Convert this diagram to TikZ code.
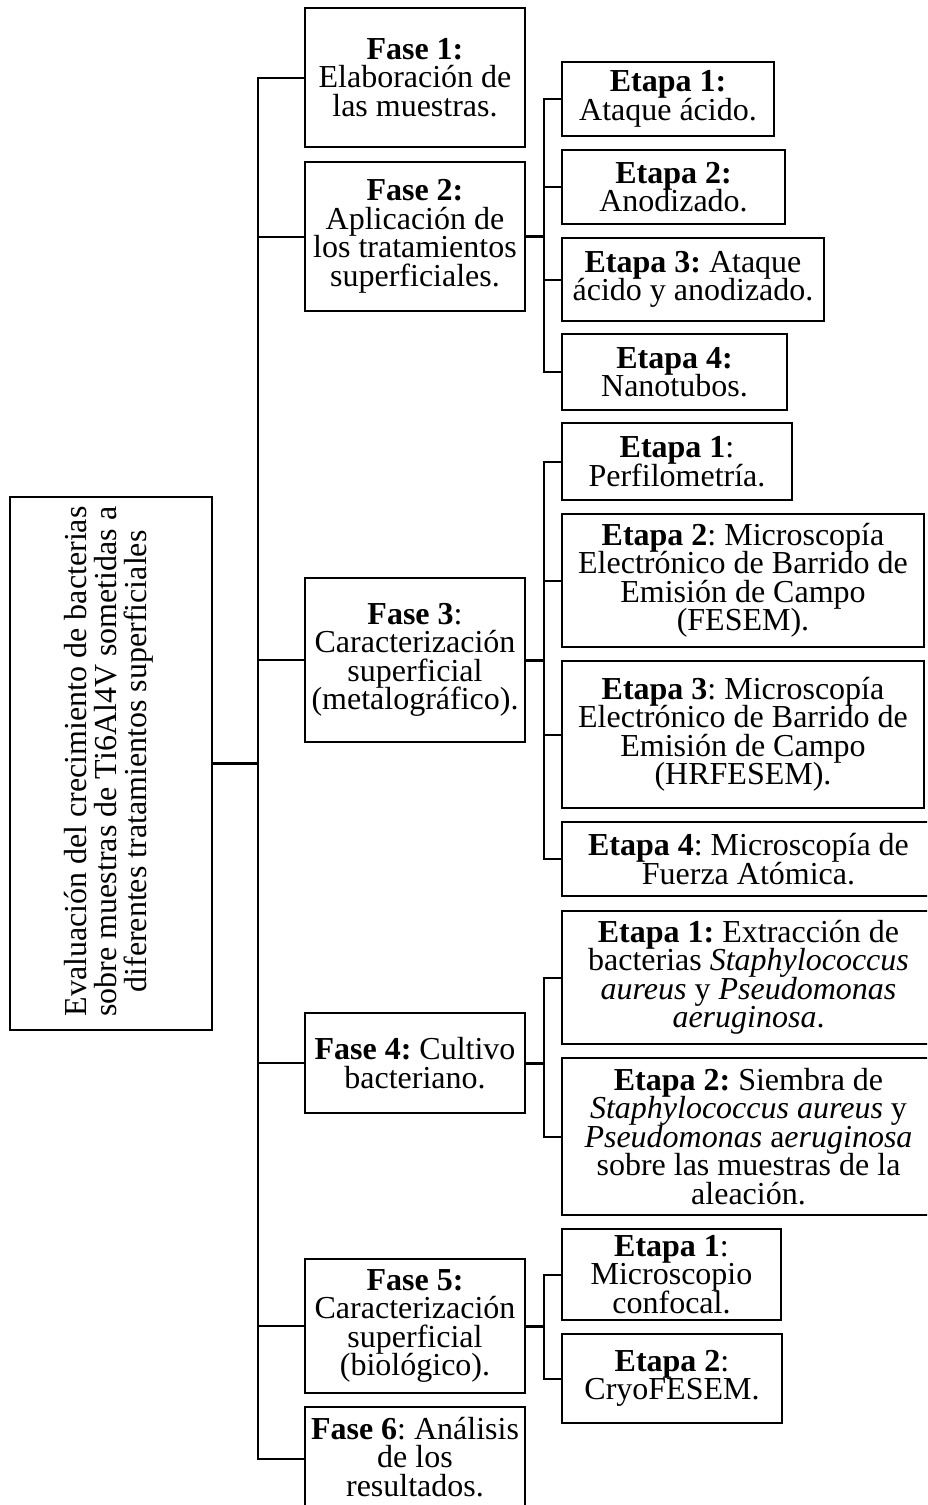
\documentclass[tikz,border=0pt]{standalone}
\usepackage{fontspec}
\setmainfont{Liberation Serif}
\frenchspacing
\newcommand\boxfont{\fontsize{32}{28.5}\selectfont\frenchspacing\lineskiplimit=-100pt\lineskip=0pt\relax}
\newcommand\rootfont{\fontsize{32}{30}\selectfont\frenchspacing\lineskiplimit=-100pt\lineskip=0pt\relax}
\begin{document}
\begin{tikzpicture}[x=1pt,y=-1pt,
  box/.style={draw, line width=2pt, inner sep=0pt, align=center, font=\boxfont},
  txt/.style={inner sep=0pt, align=center, font=\boxfont},
  conn/.style={line width=2pt},
  stub/.style={line width=3pt}]
\useasboundingbox (0,0) rectangle (927,1505);
\fill[white] (0,0) rectangle (927,1505);
\clip (0,0) rectangle (927,1505);

% root
\node[box, minimum width=202pt, minimum height=533pt] (root) at (111,763.5) {};
\node[txt, rotate=90, font=\rootfont] (roottext) at (109,761.5)
  {Evaluación del crecimiento de bacterias\\sobre muestras de Ti6Al4V sometidas a\\diferentes tratamientos superficiales};

% fases
\node[box, minimum width=220pt, minimum height=139pt] (f1) at (415,77.5)
  {\textbf{Fase 1:}\\Elaboración de\\las muestras.};
\node[box, minimum width=220pt, minimum height=149pt] (f2) at (415,236.5)
  {\textbf{Fase 2:}\\Aplicación de\\los tratamientos\\superficiales.};
\node[box, minimum width=220pt, minimum height=164pt] (f3) at (415,660)
  {\textbf{Fase 3}:\\Caracterización\\superficial\\(metalográfico).};
\node[box, minimum width=220pt, minimum height=100pt] (f4) at (415,1063)
  {\textbf{Fase 4:} Cultivo\\bacteriano.};
\node[box, minimum width=220pt, minimum height=134pt] (f5) at (415,1326)
  {\textbf{Fase 5:}\\Caracterización\\superficial\\(biológico).};
\node[box, minimum width=220pt, minimum height=104pt] (f6) at (415,1459) {};
\node[txt] (f6text) at (415,1457)
  {\textbf{Fase 6}: Análisis\\de los\\resultados.};

% etapas fase 2
\node[box, minimum width=212pt, minimum height=74pt] (e21) at (668,99)
  {\textbf{Etapa 1:}\\Ataque ácido.};
\node[box, minimum width=223pt, minimum height=74pt] (e22) at (673.5,187)
  {\textbf{Etapa 2:}\\Anodizado.};
\node[box, minimum width=262pt, minimum height=83pt] (e23) at (693,279.5)
  {\textbf{Etapa 3:} Ataque\\ácido y anodizado.};
\node[box, minimum width=225pt, minimum height=76pt] (e24) at (674.5,372)
  {\textbf{Etapa 4:}\\Nanotubos.};

% etapas fase 3
\node[box, minimum width=230pt, minimum height=77pt] (e31) at (677,461.5)
  {\textbf{Etapa 1}:\\Perfilometría.};
\node[box, minimum width=362pt, minimum height=133pt] (e32) at (743,580.5)
  {\textbf{Etapa 2}: Microscopía\\Electrónico de Barrido de\\Emisión de Campo\\(FESEM).};
\node[box, minimum width=362pt, minimum height=147pt] (e33) at (743,734.5)
  {\textbf{Etapa 3}: Microscopía\\Electrónico de Barrido de\\Emisión de Campo\\(HRFESEM).};
\node[box, minimum width=373pt, minimum height=74pt] (e34) at (748.5,859)
  {\textbf{Etapa 4}: Microscopía de\\Fuerza Atómica.};

% etapas fase 4
\node[box, minimum width=373pt, minimum height=133pt] (e41) at (748.5,977.5)
  {\textbf{Etapa 1:} Extracción de\\bacterias \textit{Staphylococcus}\\\textit{aureus} y \textit{Pseudomonas}\\\textit{aeruginosa}.};
\node[box, minimum width=373pt, minimum height=157pt] (e42) at (748.5,1136.5)
  {\textbf{Etapa 2:} Siembra de\\\textit{Staphylococcus aureus} y\\\textit{Pseudomonas} a\textit{eruginosa}\\sobre las muestras de la\\aleación.};

% etapas fase 5
\node[box, minimum width=219pt, minimum height=91pt] (e51) at (671.5,1274.5)
  {\textbf{Etapa 1}:\\Microscopio\\confocal.};
\node[box, minimum width=220pt, minimum height=89pt] (e52) at (672,1378.5)
  {\textbf{Etapa 2}:\\CryoFESEM.};

% trunk
\coordinate (T) at (258,0);
\coordinate (B) at (543.5,0);
\draw[conn] (f1.west) -- (f1.west -| T) -- (f6.west -| T) -- (f6.west);
\foreach \n in {f2,f3,f4,f5} \draw[conn] (\n.west) -- (\n.west -| T);
\draw[stub] (root.east) -- (root.east -| T);

% branches
\draw[conn] (e21.west) -- (e21.west -| B) -- (e24.west -| B) -- (e24.west);
\foreach \n in {e22,e23} \draw[conn] (\n.west) -- (\n.west -| B);
\draw[stub] (f2.east) -- (f2.east -| B);

\draw[conn] (e31.west) -- (e31.west -| B) -- (e34.west -| B) -- (e34.west);
\foreach \n in {e32,e33} \draw[conn] (\n.west) -- (\n.west -| B);
\draw[stub] (f3.east) -- (f3.east -| B);

\draw[conn] (e41.west) -- (e41.west -| B) -- (e42.west -| B) -- (e42.west);
\draw[stub] (f4.east) -- (f4.east -| B);

\draw[conn] (e51.west) -- (e51.west -| B) -- (e52.west -| B) -- (e52.west);
\draw[stub] (f5.east) -- (f5.east -| B);
\end{tikzpicture}
\end{document}
